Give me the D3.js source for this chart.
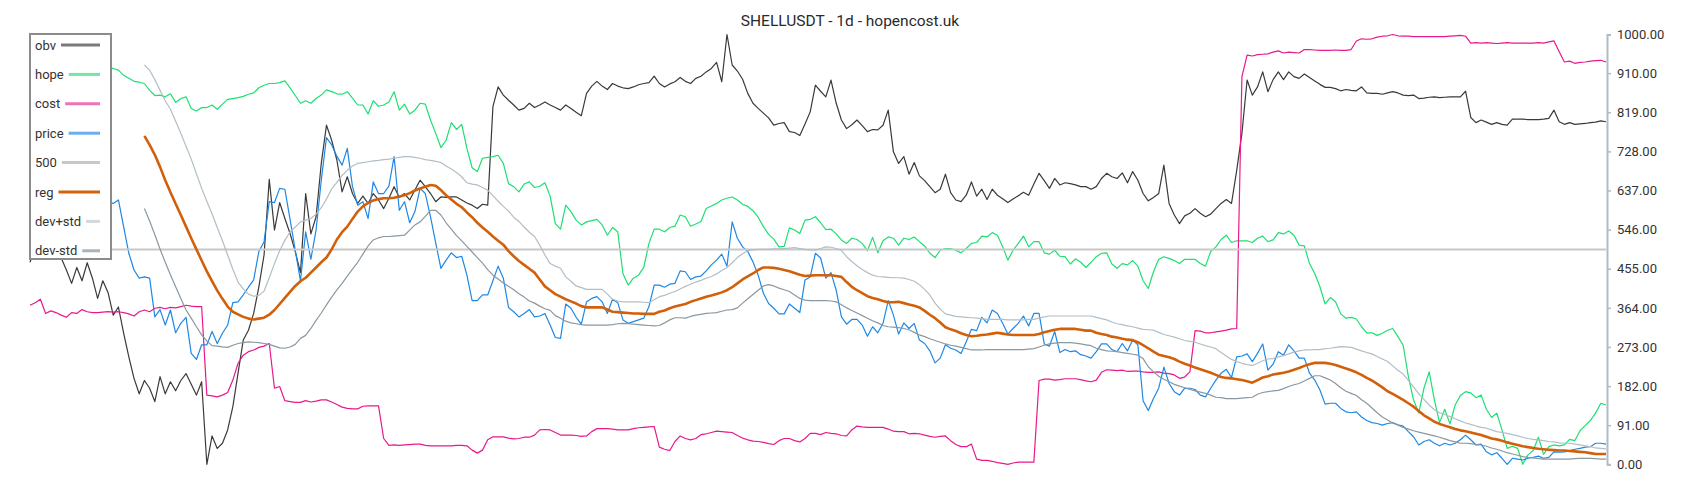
<!DOCTYPE html>
<html><head><meta charset="utf-8">
<script src="https://cdn.jsdelivr.net/npm/d3@7"></script>
<style>body{margin:0;background:#fff;} text{font-family:Roboto, "DejaVu Sans", sans-serif;}</style>
</head><body><svg id="c" width="1700" height="500"></svg>
<script>
const title = "SHELLUSDT - 1d - hopencost.uk";
const tickValues = [0, 91, 182, 273, 364, 455, 546, 637, 728, 819, 910, 1000];
const seriesNames = ["obv", "hope", "cost", "price", "500", "reg", "dev+std", "dev-std"];
const bandStart = 22; // reg / dev bands begin at day 22

const obv = [
470,505,520,500,525,510,480,452,421,458,
427,469,433,386,427,400,347,366,305,250,
200,164,195,177,146,204,164,192,171,195,
211,186,161,192,0,66,37,49,80,134,
212,289,312,351,413,487,663,545,609,572,
537,495,446,630,536,576,700,789,754,708,
634,669,630,607,624,607,630,615,595,619,
646,621,630,615,638,661,646,630,611,622,
621,622,622,615,608,603,595,605,603,832,
878,859,847,836,824,828,840,830,836,843,
836,830,824,836,828,819,811,863,880,891,
880,872,886,880,876,874,878,883,886,888,
903,886,878,885,890,900,891,886,898,903,
913,921,935,890,1000,929,915,896,863,840,
828,817,806,789,793,795,774,772,765,792,
820,882,868,855,894,840,801,781,790,801,
788,774,779,778,789,824,727,700,716,675,
702,671,660,646,632,640,675,632,615,611,
626,657,624,640,616,640,626,618,609,617,
625,633,626,652,677,660,642,665,650,655,
653,650,646,646,640,646,665,677,669,665,
678,655,681,661,630,613,621,630,696,607,
580,560,578,584,595,584,576,582,595,607,
616,607,684,770,894,859,878,913,867,895,
913,895,913,902,898,908,900,892,884,877,
877,874,869,872,870,869,878,864,863,863,
861,864,867,864,859,858,859,851,852,854,
855,853,854,855,855,855,868,807,795,801,
796,791,795,791,789,803,803,803,802,802,
802,803,805,824,797,791,795,791,792,793,
795,796,799,797];

const hope = [
940,965,985,998,1000,990,978,968,958,950,
944,938,933,929,925,922,921,917,905,898,
891,889,886,870,858,859,855,862,842,851,
855,828,822,830,830,836,826,838,849,851,
853,856,861,864,876,882,886,886,888,892,
876,858,840,846,840,851,859,871,867,862,
861,867,852,836,836,815,846,833,836,843,
867,824,838,815,824,840,838,801,770,737,
754,795,779,791,735,690,681,712,714,716,
719,700,653,646,634,652,657,644,647,655,
624,560,547,603,588,568,557,564,567,570,
557,533,551,541,444,417,433,440,458,514,
547,547,541,551,554,580,576,554,559,565,
595,601,607,615,619,622,615,605,600,590,
575,553,535,524,506,507,550,545,537,568,
570,576,562,546,547,536,522,514,526,523,
514,497,528,492,520,529,526,510,526,523,
529,518,508,491,481,498,502,502,498,492,
502,514,516,531,529,539,533,506,475,498,
514,531,506,518,518,492,489,498,484,483,
466,478,470,458,470,483,491,492,466,456,
467,464,474,461,427,409,448,477,483,479,
474,467,477,477,477,467,461,495,506,523,
533,516,520,520,520,516,526,531,518,522,
539,536,543,533,510,508,467,444,413,373,
388,378,350,340,342,338,320,306,306,300,
305,312,316,297,277,204,150,119,177,215,
150,97,128,94,138,160,169,166,155,161,
128,109,119,80,37,42,37,0,22,32,
63,23,41,45,43,45,58,55,78,90,
102,119,142,138];

const cost = [
370,376,384,351,357,353,347,342,353,351,
360,355,353,353,354,355,354,355,353,350,
345,355,359,355,363,365,362,365,364,367,
370,368,367,367,161,159,157,161,167,196,
235,254,262,266,272,275,281,177,181,148,
146,144,144,148,145,147,150,150,145,139,
133,130,129,129,135,136,136,136,60,44,
45,44,45,46,47,47,44,43,43,43,
43,43,44,44,43,33,26,33,57,64,
64,64,61,59,60,63,63,68,80,81,
80,74,68,68,68,67,65,66,76,83,
83,83,82,80,80,80,83,85,86,87,
88,40,35,32,53,66,60,57,60,69,
71,74,77,76,75,74,67,61,57,54,
53,51,48,46,55,60,60,55,52,60,
72,72,69,74,72,71,67,66,80,89,
87,86,86,86,86,82,77,76,76,71,
72,71,68,65,63,65,66,55,46,41,
41,47,12,9,9,7,4,2,0,3,
5,5,5,5,195,198,198,196,197,199,
199,199,197,194,192,196,214,220,219,218,
219,216,217,217,215,214,214,215,212,211,
208,200,203,215,311,310,306,306,308,310,
312,315,316,902,952,950,953,954,955,959,
962,957,959,958,957,965,965,964,963,963,
963,964,963,963,965,985,990,989,990,994,
996,997,1000,997,996,996,995,995,995,995,
995,995,995,996,997,998,996,980,981,980,
981,980,979,980,981,980,980,980,980,980,
981,980,983,985,960,936,938,933,935,936,
938,939,940,936];

const price = [
812,800,780,760,740,720,700,690,670,660,
650,640,630,620,612,610,607,615,553,491,
452,433,436,433,343,360,324,359,306,328,
342,258,244,278,278,309,281,305,324,376,
378,394,412,429,495,518,611,609,642,640,
570,498,427,541,477,545,661,760,743,717,
696,735,646,603,611,572,657,630,630,647,
716,591,611,562,588,642,630,576,515,456,
475,492,481,484,440,381,381,394,394,427,
461,433,365,355,343,351,360,343,345,351,
324,295,293,373,363,342,326,378,386,390,
378,351,384,376,336,328,332,336,340,367,
417,417,412,419,421,450,448,430,436,438,
450,464,475,489,461,564,526,506,495,471,
440,398,374,363,350,350,373,363,353,429,
436,491,480,433,446,405,343,326,337,337,
324,298,320,306,328,381,347,303,329,316,
328,289,281,264,236,247,278,270,266,258,
285,314,311,342,329,359,351,328,303,316,
328,345,322,351,351,280,275,309,260,267,
262,264,255,252,247,262,280,280,267,262,
281,264,289,278,148,125,153,177,226,188,
169,161,177,177,174,161,157,177,196,212,
221,202,250,252,257,239,258,280,219,233,
262,254,278,264,247,247,212,196,173,140,
142,142,130,122,120,122,110,102,97,95,
91,95,97,92,89,76,64,45,53,57,
49,43,49,45,49,57,68,57,45,47,
29,22,27,14,0,14,12,10,14,16,
19,14,16,29,28,29,32,35,37,40,
41,49,49,47];

const level500 = 500;

const reg = [
764,743,720,692,661,633,606,580,
553,526,500,474,449,426,404,385,367,355,
349,343,339,337,339,341,348,359,373,387,
401,415,426,434,446,458,470,481,500,523,
540,553,571,588,600,608,614,617,619,619,
620,623,626,631,637,642,646,650,648,638,
626,616,606,598,586,575,562,551,541,530,
520,511,496,484,473,464,455,446,430,414,
405,396,390,384,379,374,368,365,365,365,
365,360,355,354,353,352,351,351,350,350,
350,355,358,363,367,370,373,378,382,386,
390,393,396,400,405,412,421,430,437,444,
452,458,458,457,455,452,449,445,441,438,
439,440,440,440,440,438,436,424,413,405,
398,391,387,384,380,377,377,378,375,372,
369,365,357,348,340,330,319,314,310,305,
301,298,299,301,302,304,306,304,302,301,
301,301,301,301,303,307,310,313,315,315,
315,315,313,311,311,306,303,301,297,295,
292,290,289,284,277,270,262,255,252,249,
245,239,234,230,225,221,217,213,208,203,
201,200,198,196,193,190,196,202,205,209,
211,213,216,220,224,229,233,236,236,236,
234,231,227,223,219,214,208,201,195,187,
179,170,164,157,150,142,134,124,114,107,
99,94,90,86,82,79,77,74,71,68,
64,60,58,55,51,48,45,42,40,38,
36,35,34,33,32,32,31,30,29,28,
26,24,24,24];

const devPlus = [
929,917,895,870,846,826,798,770,
740,710,676,642,612,583,551,520,487,454,
424,408,396,391,393,403,434,467,497,521,
541,552,564,568,572,582,597,617,641,656,
672,684,694,700,702,704,706,707,709,710,
712,714,716,716,714,712,709,707,705,702,
694,687,679,669,655,652,650,644,638,625,
612,600,589,575,565,552,540,530,510,487,
467,461,456,436,426,415,411,407,407,407,
407,396,384,380,378,378,378,378,377,376,
383,390,393,398,402,408,414,419,424,428,
433,437,443,451,458,469,481,490,497,499,
500,500,500,501,501,502,503,504,502,500,
499,498,502,506,505,502,498,483,472,462,
453,446,440,437,436,435,434,434,433,430,
426,418,407,394,375,361,350,347,344,343,
342,341,340,339,337,337,337,337,336,336,
336,336,337,337,340,343,345,345,345,345,
345,345,345,345,345,342,339,336,331,327,
325,322,320,317,314,313,312,307,302,299,
296,292,288,286,284,280,276,273,269,260,
252,244,239,235,232,230,235,241,245,246,
250,253,257,261,264,266,266,267,267,269,
270,272,274,273,272,268,264,260,257,251,
245,239,229,219,210,195,180,164,151,138,
127,120,116,111,106,101,96,93,89,86,
84,80,76,74,72,69,66,63,60,58,
57,55,53,52,50,49,49,47,45,43,
41,38,37,36];

const devMinus = [
595,566,534,501,470,441,413,386,
359,340,320,301,287,276,275,273,272,277,
281,283,285,284,283,281,279,275,271,270,
273,279,293,300,316,335,352,371,389,406,
421,438,454,470,489,508,522,527,530,530,
531,532,533,545,557,564,577,591,591,580,
562,547,532,520,507,494,481,468,453,440,
431,422,414,406,397,389,380,375,368,362,
358,346,340,333,329,327,325,324,324,324,
324,324,325,327,328,327,326,325,324,323,
322,323,329,336,341,341,340,344,347,349,
351,352,353,356,359,360,364,375,385,395,
405,415,418,415,410,406,402,394,386,382,
381,381,381,381,380,378,371,364,358,352,
346,340,334,329,323,320,319,318,316,313,
307,301,297,292,288,284,280,277,275,272,
269,266,266,266,267,267,267,267,267,267,
267,267,268,269,273,277,280,282,283,283,
283,282,280,278,276,270,267,264,263,262,
260,258,256,254,246,227,215,205,198,192,
186,182,178,174,171,168,165,161,156,155,
153,153,153,154,155,156,163,167,169,171,
172,176,181,185,188,194,200,206,206,201,
196,188,178,170,165,160,150,142,131,120,
110,103,96,91,86,82,78,75,72,69,
66,63,59,55,52,49,49,48,46,45,
42,38,35,31,27,24,21,18,16,15,
13,12,12,12,12,12,12,13,14,14,
14,13,12,12];

// ---- drawing ----
const svg = d3.select("#c");
const n = obv.length;
const x = d3.scaleLinear().domain([0, n - 1]).range([30, 1606]);
const y = d3.scaleLinear().domain([0, 1000]).range([464.3, 34.5]);

const toPts = (arr, start) => arr.map((v, k) => [start + k, v]);
const line = d3.line().x(d => x(d[0])).y(d => y(d[1]));

const styles = {
  "obv":     {data: toPts(obv, 0), color: "#3a3a3a", w: 1.2, sw: "#7a7a7a"},
  "hope":    {data: toPts(hope, 0), color: "#1fde72", w: 1.2, sw: "#72e6a6"},
  "cost":    {data: toPts(cost, 0), color: "#e8198b", w: 1.2, sw: "#ee72b6"},
  "price":   {data: toPts(price, 0), color: "#1e88e5", w: 1.2, sw: "#6aaeee"},
  "500":     {data: toPts(obv.map(() => level500), 0), color: "#c8c8c8", w: 2, sw: "#c8c8c8"},
  "reg":     {data: toPts(reg, bandStart), color: "#d2600a", w: 2.6, sw: "#d4630e"},
  "dev+std": {data: toPts(devPlus, bandStart), color: "#b2bec6", w: 1.2, sw: "#d2d8dc"},
  "dev-std": {data: toPts(devMinus, bandStart), color: "#8a98a2", w: 1.2, sw: "#a8b4bb"}
};

const g = svg.append("g");
seriesNames.forEach(name => {
  const s = styles[name];
  g.append("path").attr("d", line(s.data)).attr("fill", "none")
    .attr("stroke", s.color).attr("stroke-width", s.w)
    .attr("stroke-linejoin", "round");
});

// right axis
const axis = d3.axisRight(y).tickValues(tickValues).tickFormat(d3.format(".2f"))
  .tickSize(4).tickPadding(6);
const ag = svg.append("g").attr("transform", "translate(1607,0)").call(axis);
ag.select(".domain").attr("stroke", "#b0bbc3").attr("stroke-width", 2);
ag.selectAll(".tick line").attr("stroke", "#b0bbc3").attr("stroke-width", 1.5);
ag.selectAll(".tick text").attr("fill", "#333").style("font-size", "13px")
  .style("font-family", "Roboto, sans-serif");

// title
svg.append("text").attr("x", 850).attr("y", 26).attr("text-anchor", "middle")
  .attr("fill", "#2a2a2a").style("font-size", "15.5px").text(title);

// legend
const lg = svg.append("g");
lg.append("rect").attr("x", 30).attr("y", 34).attr("width", 81).attr("height", 225)
  .attr("fill", "#fff").attr("stroke", "#8c8c8c").attr("stroke-width", 2);
seriesNames.forEach((name, k) => {
  const cy = 45 + k * 29.4;
  const t = lg.append("text").attr("x", 35).attr("y", cy + 4.5)
    .attr("fill", "#333").style("font-size", "13px").text(name);
  const tw = t.node().getComputedTextLength();
  lg.append("line").attr("x1", 35 + tw + 5).attr("x2", 100)
    .attr("y1", cy).attr("y2", cy)
    .attr("stroke", styles[name].sw).attr("stroke-width", 3);
});
</script></body></html>
